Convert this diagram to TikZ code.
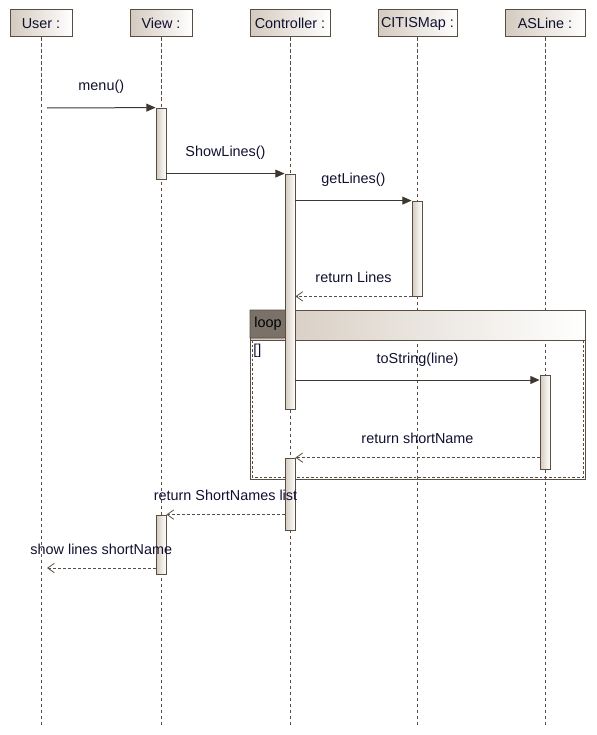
\documentclass[tikz,border=0pt]{standalone}
\usepackage{fontspec}
\setmainfont{Liberation Sans}
\usepackage{xcolor}
\usepackage{tikz}
\usetikzlibrary{arrows.meta}

\definecolor{umlline}{RGB}{89,78,68}
\definecolor{umltan}{RGB}{212,202,190}
\definecolor{umltext}{RGB}{16,16,48}
\definecolor{umltab}{RGB}{122,114,104}

\tikzset{
  obj/.style={draw=umlline, line width=0.75pt, left color=umltan, right color=white,
    minimum height=20.25pt, inner sep=2pt, font=\fontsize{10.8}{12}\selectfont, text=umltext},
  lifeline/.style={draw=umlline, line width=0.5pt, dash pattern=on 2.5pt off 2pt},
  act/.style={draw=umlline, line width=0.6pt, left color=umltan, right color=white,
    minimum width=7.5pt, inner sep=0pt},
  call/.style={draw=umlline!70!black, line width=0.75pt, -{Triangle[length=7pt,width=6pt]}},
  reply/.style={draw=umlline, line width=0.6pt, dash pattern=on 2.25pt off 1.5pt,
    -{Straight Barb[length=5pt,width=7pt]}},
  lbl/.style={font=\fontsize{10.8}{12}\selectfont, text=umltext, inner sep=0pt, above=10pt}
}

\begin{document}
\begin{tikzpicture}[x=0.75pt,y=0.75pt,yscale=-1,xscale=1]
        \useasboundingbox (0,0) rectangle (596,735);

        % objects
        \node (user) [obj, minimum width=46.5pt] at (41,23.5) {User :};
        \node (view) [obj, minimum width=46.5pt] at (161,23.5) {View :};
        \node (ctrl) [obj, minimum width=60pt] at (290,23.5) {Controller :};
        \node (map) [obj, minimum width=59.25pt] at (417.5,23.5) {CITISMap :};
        \node (asline) [obj, minimum width=60pt] at (545,23.5) {ASLine :};

        % lifelines
        \foreach \o in {user,view,ctrl,map,asline}
            \draw [lifeline] (\o.south) -- (\o.south |- 0,725);

        % loop frame
        \draw [draw=umlline, line width=0.75pt, left color=umltan, right color=white] (250,310) rectangle (585,340);
        \draw [umlline, line width=0.75pt] (250,310) rectangle (585,479);
        \draw [umlline, line width=0.5pt, dash pattern=on 2pt off 1.5pt] (252,340) rectangle (583,477);
        \draw [fill=umltab, draw=umlline, line width=0.5pt] (250,310) -- (289,310) -- (289,333) -- (284,338) -- (250,338) -- cycle;
        \node (looptag) [font=\fontsize{10.8}{12}\selectfont, text=black, inner sep=0pt] at (268,324) {loop};
        \node (guard) [font=\fontsize{10.8}{12}\selectfont, text=umltext, inner sep=0pt, anchor=north west] at (253,344) {[]};

        % activations
        \node (va1) [act, minimum height={71*0.75pt}] at (161,143.5) {};
        \node (ca1) [act, minimum height={235*0.75pt}] at (290,291.5) {};
        \node (ma1) [act, minimum height={95*0.75pt}] at (417,248.5) {};
        \node (aa1) [act, minimum height={94*0.75pt}] at (545,422) {};
        \node (ca2) [act, minimum height={72*0.75pt}] at (290,494) {};
        \node (va2) [act, minimum height={59*0.75pt}] at (161,544.5) {};

        % messages
        \coordinate (ustart) at (47,108);
        \coordinate (uend) at (47,568);
        \draw [call] (ustart) -- (va1.north west) node [lbl, midway] {menu()};
        \draw [call] (va1.east |- ca1.north) -- (ca1.north west) node [lbl, midway] {ShowLines()};
        \draw [call] (ca1.east |- ma1.north) -- (ma1.north west) node [lbl, midway] {getLines()};
        \draw [reply] (ma1.south west) -- (ca1.east |- ma1.south) node [lbl, midway] {return Lines};
        \draw [call] (ca1.east |- 0,380) -- (aa1.west |- 0,380) node [lbl, midway] {toString(line)};
        \draw [reply] (aa1.west |- ca2.north) -- (ca2.north east) node [lbl, midway] {return shortName};
        \draw [reply] (ca2.west |- va2.north) -- (va2.north east) node [lbl, midway] {return ShortNames list};
        \draw [reply] (va2.west |- uend) -- (uend) node [lbl, midway] {show lines shortName};
    \end{tikzpicture}
\end{document}
